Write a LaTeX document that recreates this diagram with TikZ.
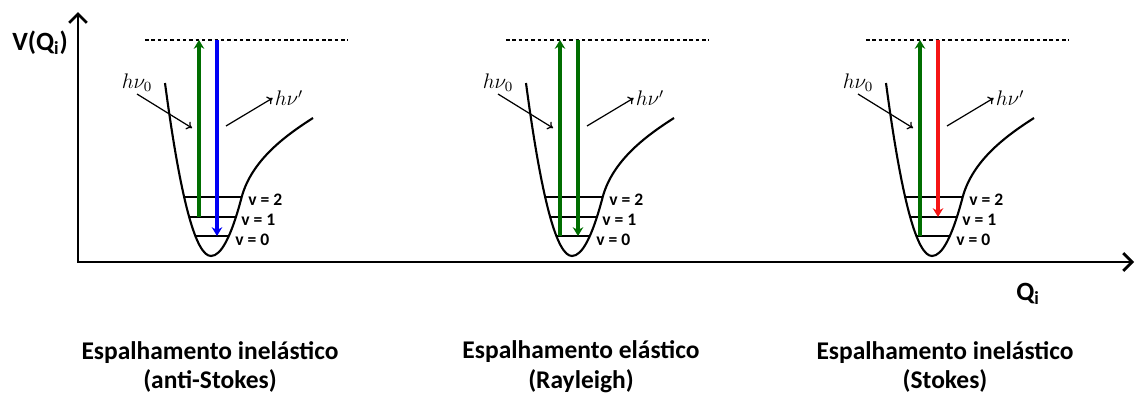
\documentclass[tikz,border=0pt]{standalone}
\usepackage{fontspec}
\setmainfont{Carlito}
\usepackage{xcolor}
\usetikzlibrary{arrows.meta}
\definecolor{ramangreen}{RGB}{0,110,0}
\definecolor{ramanblue}{RGB}{0,0,245}
\definecolor{ramanred}{RGB}{245,20,20}

\begin{document}
\begin{tikzpicture}[x=0.02cm,y=-0.02cm,>=Stealth,
  axis/.style={line width=1.6pt,{Straight Barb[length=5pt,width=10pt]}-{Straight Barb[length=5pt,width=10pt]}},
  well/.style={line width=1.2pt},
  level/.style={line width=1.2pt},
  virtual/.style={line width=1.2pt,dash pattern=on 2pt off 1.6pt},
  trans/.style={line width=2.4pt,-{Stealth[length=5pt,width=6pt]}},
  photon/.style={line width=0.7pt,-{To[length=3pt,width=5pt]}},
  vlab/.style={anchor=west,inner sep=0pt,font=\fontsize{10}{11}\selectfont\bfseries},
  hlab/.style={inner sep=1pt,font=\fontsize{11.5}{12}\selectfont},
  caption/.style={align=center,inner sep=0pt,font=\fontsize{14.5}{17}\selectfont\bfseries},
  axlab/.style={inner sep=0pt,font=\fontsize{15}{17}\selectfont\bfseries}]
  \useasboundingbox (0,0) rectangle (1136,396);
  % axes
  \coordinate (ytop) at (78,12);
  \coordinate (o) at (78,262);
  \coordinate (xend) at (1134,262);
  \draw[axis] (ytop) -- (o) -- (xend);
  \node[axlab] (vq) at (40,43) {V(Q\textsubscript{i})};
  \node[axlab] (qi) at (1028,294) {Q\textsubscript{i}};
  % one potential well per scattering process
  \foreach \cx/\p/\yin/\cin/\yout/\cout/\capx/\capa/\capb in
    {207/as/217/ramangreen/236/ramanblue/3/inelástico/anti-Stokes,
     568/ra/236/ramangreen/236/ramangreen/13/elástico/Rayleigh,
     928/st/236/ramangreen/217/ramanred/17/inelástico/Stokes}{
  \begin{scope}[shift={(\cx,0)}]
    \draw[well] (-42,83) .. controls (-26.7,198.3) and (-11.3,256) .. (4,256)
      .. controls (14.2,256) and (24.4,236.3) .. (34.7,197)
      .. controls (45,159) and (81,134) .. (106,118);
    \coordinate (\p-l2) at (-23,197); \coordinate (\p-r2) at (34.7,197);
    \coordinate (\p-l1) at (-17.9,217); \coordinate (\p-r1) at (29,217);
    \coordinate (\p-l0) at (-11.7,236); \coordinate (\p-r0) at (21.9,236);
    \draw[level] (\p-l2) -- (\p-r2);
    \draw[level] (\p-l1) -- (\p-r1);
    \draw[level] (\p-l0) -- (\p-r0);
    \node[vlab] (\p-v2) at (41,200) {v = 2};
    \node[vlab] (\p-v1) at (34,220) {v = 1};
    \node[vlab] (\p-v0) at (28,240) {v = 0};
    \coordinate (\p-vl) at (-62,40); \coordinate (\p-vr) at (141,40);
    \draw[virtual] (\p-vl) -- (\p-vr);
    \coordinate (\p-inb) at (-8,\yin); \coordinate (\p-int) at (-8,40);
    \coordinate (\p-outt) at (10,40); \coordinate (\p-outb) at (10,\yout);
    \draw[trans,draw=\cin,fill=\cin] (\p-inb) -- (\p-int);
    \draw[trans,draw=\cout,fill=\cout] (\p-outt) -- (\p-outb);
    \node[hlab] (\p-h0) at (-70,83) {$h\nu_0$};
    \coordinate (\p-h0e) at (-15,128);
    \draw[photon] (\p-h0.south) -- (\p-h0e);
    \node[hlab] (\p-h1) at (82,98) {$h\nu'$};
    \coordinate (\p-h1s) at (19,126);
    \draw[photon] (\p-h1s) -- (\p-h1.west);
    \node[caption] (\p-cap) at (\capx,367) {Espalhamento \capa\\(\capb)};
  \end{scope}}
\end{tikzpicture}
\end{document}
